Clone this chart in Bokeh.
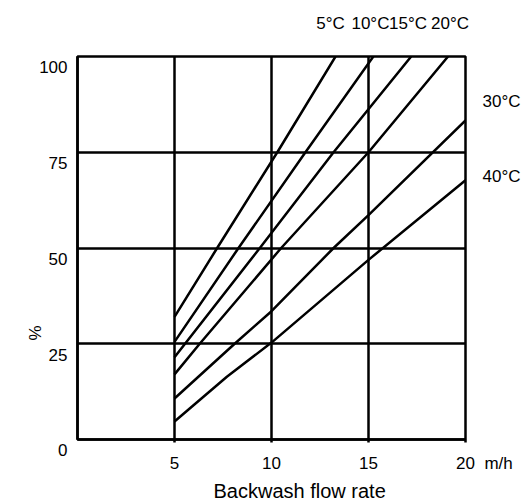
from bokeh.plotting import figure
from bokeh.models import Range1d, FixedTicker, Title, LinearAxis, CustomJSTickFormatter
from bokeh.embed import file_html
from bokeh.resources import INLINE

# ---- data ----
series_names = ["5°C", "10°C", "15°C", "20°C", "30°C", "40°C"]
x_5 = [5, 7.2, 10.3, 13.3]
y_5 = [32, 50, 75, 100]
x_10 = [5, 8.3, 11.75, 15.25]
y_10 = [25.5, 50, 75, 100]
x_15 = [5, 9.4, 13.2, 17.2]
y_15 = [21.5, 50, 75, 100]
x_20 = [5, 6.3, 10.5, 15, 19.1]
y_20 = [17, 25, 50, 75, 100]
x_30 = [5, 8.1, 10, 13.2, 15, 20]
y_30 = [10.7, 25, 33.5, 50, 58.6, 83.3]
x_40 = [5, 7.7, 10, 15, 20]
y_40 = [4.7, 16.4, 25.3, 46.9, 67.7]

x_ticks = [5, 10, 15, 20]
y_ticks = [0, 25, 50, 75, 100]
x_unit = "m/h"
x_title = "Backwash flow rate"
y_title = "%"

# where the curve names sit
top_label_x = [13.04, 15.1, 17.04, 19.2]      # 5, 10, 15, 20 °C (above the frame)
side_label_y = [68.7, 88.2]                   # 40, 30 °C (right of the frame)
side_label_names = ["40°C", "30°C"]
y_title_pos = [27.8]

FONT = "Liberation Sans"
FS = "17px"
NB = "\u00a0"

p = figure(width=526, height=504, x_range=Range1d(0, 20), y_range=Range1d(0, 100),
           output_backend="svg", toolbar_location=None,
           min_border_left=77, min_border_right=61, min_border_top=56, min_border_bottom=64)
p.background_fill_color = "white"
p.border_fill_color = "white"
p.outline_line_color = "black"
p.outline_line_width = 2.5

p.xgrid.ticker = FixedTicker(ticks=x_ticks)
p.ygrid.ticker = FixedTicker(ticks=y_ticks)
for g in (p.xgrid, p.ygrid):
    g.grid_line_color = "black"
    g.grid_line_width = 2.5


def style_text_axis(ax):
    ax.major_label_text_font = FONT
    ax.major_label_text_font_size = FS
    ax.major_label_text_color = "black"
    ax.minor_tick_line_color = None


# bottom axis: ticks 5..20 and the unit after the last one
x_tick_labels = [str(t) for t in x_ticks] + [NB * 14 + x_unit]
p.xaxis.ticker = FixedTicker(ticks=x_ticks + [x_ticks[-1]])
p.xaxis.formatter = CustomJSTickFormatter(args=dict(labels=x_tick_labels),
                                          code="return labels[index];")
p.xaxis.axis_line_width = 2.5
p.xaxis.axis_line_color = "black"
p.xaxis.major_tick_line_color = "black"
p.xaxis.major_tick_line_width = 2.5
p.xaxis.major_tick_out = 3
p.xaxis.major_tick_in = 0
p.xaxis.major_label_standoff = 11
style_text_axis(p.xaxis[0])

# left axis: labels sit just below their grid line
p.yaxis.ticker = FixedTicker(ticks=y_ticks)
p.yaxis.formatter = CustomJSTickFormatter(args=dict(nb=NB),
                                          code="return nb + '\\n' + tick.toString();")
p.yaxis.axis_line_width = 2.5
p.yaxis.axis_line_color = "black"
p.yaxis.major_tick_line_color = None
p.yaxis.major_label_standoff = 4
style_text_axis(p.yaxis[0])

# "%" as an outer left axis
pct_axis = LinearAxis(ticker=FixedTicker(ticks=y_title_pos),
                      formatter=CustomJSTickFormatter(args=dict(t=y_title), code="return t;"),
                      axis_line_color=None, major_tick_line_color=None,
                      major_label_orientation="vertical", major_label_standoff=-15)
style_text_axis(pct_axis)
p.add_layout(pct_axis, "left")

# curve names above the frame
top_axis = LinearAxis(ticker=FixedTicker(ticks=top_label_x),
                      formatter=CustomJSTickFormatter(args=dict(n=series_names[:4]),
                                                      code="return n[index];"),
                      axis_line_color=None, major_tick_line_color=None,
                      major_label_standoff=18)
style_text_axis(top_axis)
p.add_layout(top_axis, "above")

# curve names right of the frame
right_axis = LinearAxis(ticker=FixedTicker(ticks=side_label_y),
                        formatter=CustomJSTickFormatter(args=dict(n=side_label_names),
                                                        code="return n[index];"),
                        axis_line_color=None, major_tick_line_color=None,
                        major_label_standoff=11)
style_text_axis(right_axis)
p.add_layout(right_axis, "right")

# x title
p.add_layout(Title(text=x_title, align="left", offset=136, text_font=FONT,
                   text_font_size="20px", text_font_style="normal",
                   text_color="black", standoff=5), "below")

xs = [x_5, x_10, x_15, x_20, x_30, x_40]
ys = [y_5, y_10, y_15, y_20, y_30, y_40]
for xx, yy in zip(xs, ys):
    p.line(xx, yy, line_color="black", line_width=2.5)

open("out.html", "w").write(file_html(p, INLINE))
